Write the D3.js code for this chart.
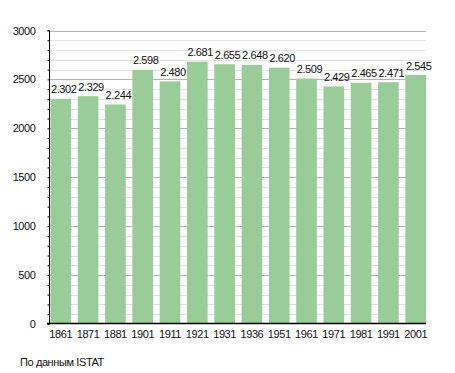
<!DOCTYPE html>
<html>
<head>
<meta charset="utf-8">
<script src="https://cdn.jsdelivr.net/npm/d3@7"></script>
<style>
  body { margin: 0; background: #fff; }
  svg text { font-family: "Liberation Sans", Arial, sans-serif; fill: #111; letter-spacing: -0.4px; }
</style>
</head>
<body>
<div id="chart"></div>
<script>
// census years and population
var years = ["1861", "1871", "1881", "1901", "1911", "1921", "1931", "1936", "1951", "1961", "1971", "1981", "1991", "2001"];
var population = [2302, 2329, 2244, 2598, 2480, 2681, 2655, 2648, 2620, 2509, 2429, 2465, 2471, 2545];
var yTicks = [0, 500, 1000, 1500, 2000, 2500, 3000];
var sourceNote = "По данным  ISTAT";

var width = 455, height = 373;
var plotLeft = 50, plotRight = 426, plotTop = 30.5, plotBottom = 324;

var svg = d3.select("#chart").append("svg")
    .attr("width", width)
    .attr("height", height);

var x = d3.scaleBand()
    .domain(years)
    .range([plotLeft + 0.5, plotRight])
    .paddingInner(0.245)
    .paddingOuter(0);

var y = d3.scaleLinear()
    .domain([0, 3000])
    .range([plotBottom, plotTop]);

// minor grid every 100
var minor = d3.range(100, 3001, 100).filter(function(v) { return v % 500 != 0; });
svg.append("g").selectAll("line")
    .data(minor)
  .enter().append("line")
    .attr("x1", plotLeft).attr("x2", plotRight)
    .attr("y1", function(d) { return Math.round(y(d)) + 0.5; })
    .attr("y2", function(d) { return Math.round(y(d)) + 0.5; })
    .attr("stroke", "#e2e2e2");

// major grid every 500
svg.append("g").selectAll("line")
    .data(yTicks.filter(function(v) { return v > 0; }))
  .enter().append("line")
    .attr("x1", plotLeft).attr("x2", plotRight)
    .attr("y1", function(d) { return Math.round(y(d)) + 0.5; })
    .attr("y2", function(d) { return Math.round(y(d)) + 0.5; })
    .attr("stroke", "#b4b4b4");

// bars
svg.append("g").selectAll("rect")
    .data(population)
  .enter().append("rect")
    .attr("x", function(d, i) { return x(years[i]); })
    .attr("width", x.bandwidth())
    .attr("y", function(d) { return y(d); })
    .attr("height", function(d) { return plotBottom - y(d); })
    .attr("fill", "#99cc99");

// value labels, left aligned on the bar like the original
svg.append("g").selectAll("text")
    .data(population)
  .enter().append("text")
    .attr("x", function(d, i) { return x(years[i]) + 0.5; })
    .attr("y", function(d) { return y(d) - 5.5; })
    .style("font-size", "11px")
    .text(function(d) { return d3.format(",")(d).replace(",", "."); });

// y axis with minor ticks
var yAxis = d3.axisLeft(y)
    .tickValues(d3.range(0, 3001, 100))
    .tickSize(2)
    .tickFormat(function(d) { return yTicks.indexOf(d) >= 0 ? d : ""; })
    .tickPadding(12);

var gy = svg.append("g")
    .attr("transform", "translate(" + (plotLeft - 0.5) + ",0)")
    .call(yAxis);
gy.select(".domain").attr("stroke", "#000").attr("d", "M-2," + plotTop + "H0V" + plotBottom);
gy.selectAll("text").style("font-size", "11px");

// x axis
var xAxis = d3.axisBottom(x).tickSize(0).tickPadding(7);
var gx = svg.append("g")
    .attr("transform", "translate(0," + (plotBottom - 0.5) + ")")
    .call(xAxis);
gx.select(".domain").attr("stroke", "#000").attr("stroke-width", 1.5)
    .attr("d", "M" + (plotLeft - 3) + ",0H" + plotRight);
gx.selectAll("text").style("font-size", "11px");

// source
svg.append("text")
    .attr("x", 20)
    .attr("y", 366)
    .style("font-size", "11px")
    .text(sourceNote);
</script>
</body>
</html>
